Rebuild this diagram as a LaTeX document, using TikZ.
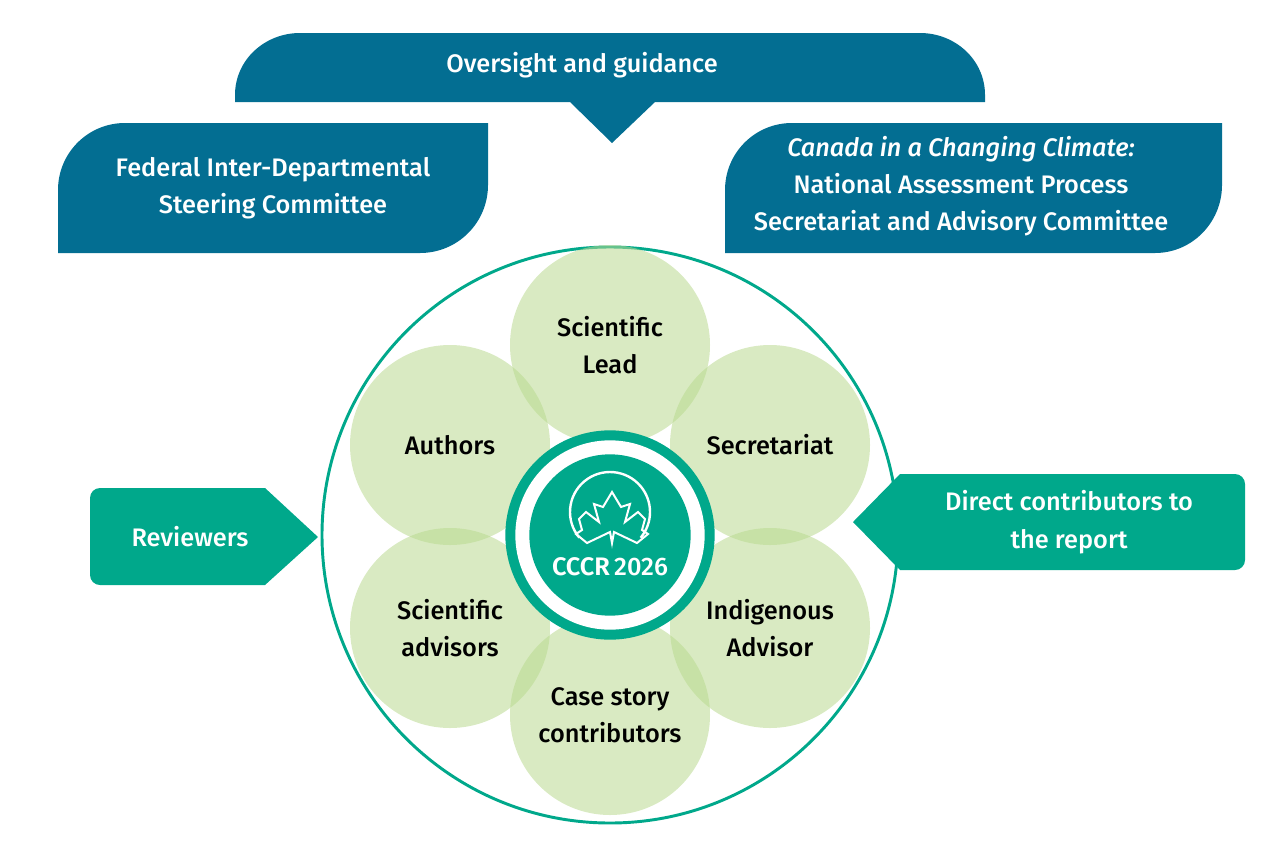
\documentclass[tikz,border=0pt]{standalone}
\usepackage{fontspec}
\setmainfont{Fira Sans}[UprightFont={* Medium},ItalicFont={* Medium Italic},BoldFont={* SemiBold}]
\usetikzlibrary{calc,positioning}
\definecolor{navy}{HTML}{036E92}
\definecolor{teal}{HTML}{00A88B}
\definecolor{leaf}{HTML}{B9D98F}
\tikzset{
    banner/.style={
    fill=navy,draw=none
    },
    callout/.style={
    fill=teal,draw=none
    },
    petal/.style={
    circle,minimum size=150pt,fill=leaf,fill opacity=0.55,draw=none,text opacity=1,
    align=center,font=\fontsize{19}{28}\selectfont,text=black
    },
    wlabel/.style={
    align=center,text=white,font=\fontsize{19}{28}\selectfont
    },
}
\begin{document}
\begin{tikzpicture}[x=0.75pt,y=-0.75pt]
  \useasboundingbox (0,0) rectangle (1280,854);
  % top banners
  \fill[banner] (235,102) -- (235,95) to[out=90,in=180] (300,33) -- (920,33)
    to[out=0,in=90] (985,95) -- (985,102) -- (655,102) -- (612,143) -- (570,102) -- cycle;
  \node[wlabel] (over) at (582,65) {Oversight and guidance};
  \fill[banner] (58,253) -- (58,190) to[out=90,in=180] (125,123) -- (488,123) -- (488,185)
    to[out=-90,in=0] (420,253) -- cycle;
  \node[wlabel] (fed) at (273,188) {Federal Inter-Departmental\\Steering Committee};
  \fill[banner] (725,253) -- (725,190) to[out=90,in=180] (792,123) -- (1222,123) -- (1222,185)
    to[out=-90,in=0] (1155,253) -- cycle;
  \node[wlabel] (ccc) at (961,186) {\textit{Canada in a Changing Climate:}\\National Assessment Process\\Secretariat and Advisory Committee};
  % outer ring
  \node[circle,draw=teal,line width=2.2pt,minimum size=432pt] (ring) at (610,535) {};
  % petals
  \node[petal] (lead) at (610,345) {Scientific\\Lead};
  \node[petal] (sec) at (770,445) {Secretariat};
  \node[petal] (ind) at (770,628) {Indigenous\\Advisor};
  \node[petal] (case) at (610,715) {Case story\\contributors};
  \node[petal] (adv) at (450,628) {Scientific\\advisors};
  \node[petal] (auth) at (450,445) {Authors};
  % centre logo
  \node[circle,fill=teal,minimum size=157pt] (core) at (610,535) {};
  \node[circle,fill=white,minimum size=142pt] at (core) {};
  \node[circle,fill=teal,minimum size=121pt] (logo) at (core) {};
  \draw[white,line width=1.8pt] ($(610,512)+(140:40)$) arc[start angle=140,end angle=400,radius=40];
  \draw[white,line width=1.5pt,line join=miter] (612,492) -- (621,507) -- (630,504) -- (625,522)
    -- (638,512) -- (645,519) -- (642,530) -- (648,534) -- (637,543) -- (614,532) -- (612,543)
    -- (610,532) -- (587,543) -- (576,534) -- (582,530) -- (579,519) -- (586,512) -- (599,522)
    -- (594,504) -- (603,507) -- cycle;
  \node[text=white,font=\fontsize{19}{20}\selectfont\bfseries] (year) at (610,567) {CCCR\,{\mdseries 2026}};
  % side callouts
  \fill[callout] (100,488) -- (265,488) -- (318,537) -- (265,585) -- (100,585)
    to[out=180,in=-90] (90,575) -- (90,498) to[out=90,in=180] cycle;
  \node[wlabel] (rev) at (190,537) {Reviewers};
  \fill[callout] (900,474) -- (1235,474) to[out=0,in=90] (1245,484) -- (1245,560)
    to[out=-90,in=0] (1235,570) -- (900,570) -- (853,522) -- cycle;
  \node[wlabel] (dir) at (1069,522) {Direct contributors to\\the report};
\end{tikzpicture}
\end{document}
